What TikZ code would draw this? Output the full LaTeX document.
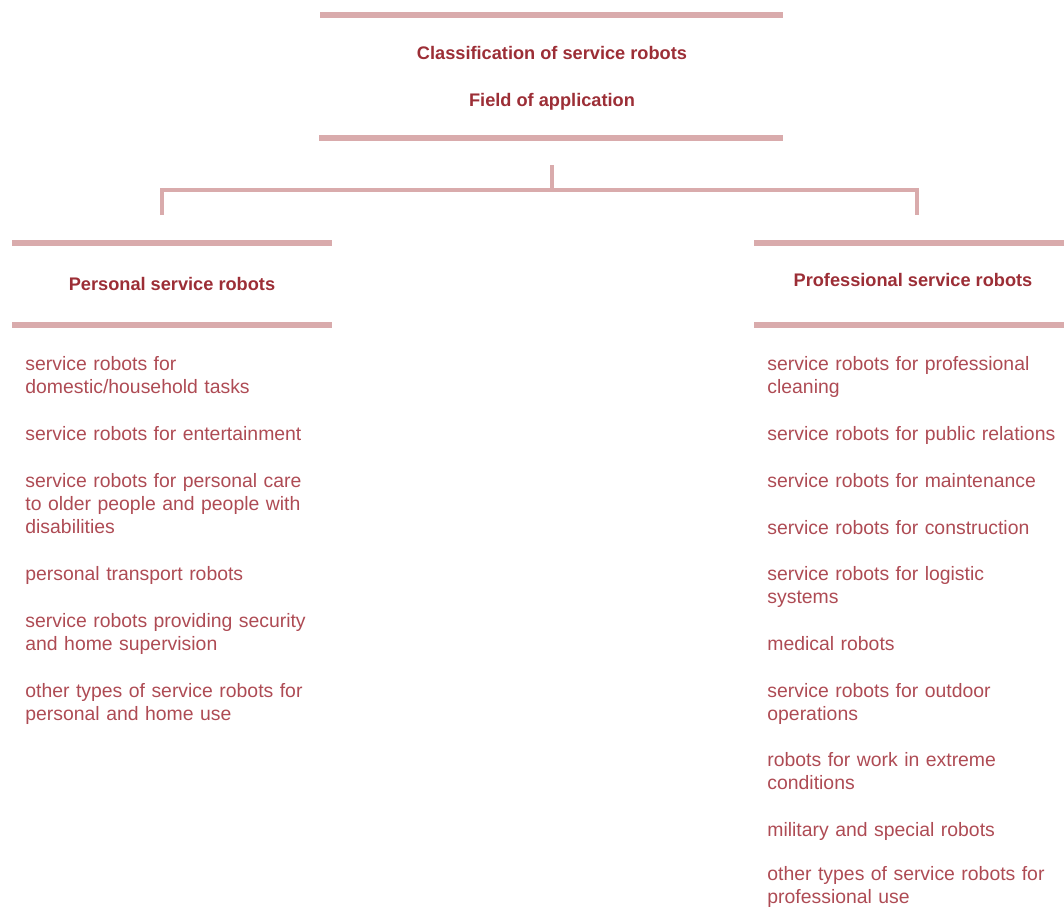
\documentclass[tikz,border=0pt]{standalone}
\usepackage{fontspec}
\setmainfont{Liberation Sans}
\definecolor{barpink}{HTML}{D9ABAC}
\definecolor{headred}{HTML}{9C2E36}
\definecolor{itemred}{HTML}{AE4B54}
\begin{document}
\begin{tikzpicture}[x=0.5pt,y=-0.5pt,
bar/.style={barpink,line width=3pt},link/.style={barpink,line width=1.6pt},
title/.style={font=\fontsize{9.1}{11}\selectfont\bfseries,text=headred,inner sep=0pt,anchor=base},
item/.style={font=\fontsize{9.7}{11.5}\selectfont,text=itemred,inner sep=0pt,anchor=base west,text width=160pt,align=left}]
\useasboundingbox (0,0) rectangle (1064,906);
% top box
\draw[bar] (320,15) -- (783,15);
\node[title] (head) at (552,59) {Classification of service robots};
\node[title] (field) at (552,106) {Field of application};
\draw[bar] (319,138) -- (783,138);
% tree
\coordinate (stem) at (552,165);
\coordinate (fork) at (552,190);
\coordinate (dropL) at (162,215);
\coordinate (dropR) at (917,215);
\draw[link] (stem) -- (fork);
\draw[link] (dropL) |- (fork) -| (dropR);
% personal
\draw[bar] (12,243) -- (332,243);
\node[title] (pers) at (172,290) {Personal service robots};
\draw[bar] (12,325) -- (332,325);
\node[item] (p1) at (25,370) {service robots for\\domestic/household tasks};
\node[item] (p2) at (25,440) {service robots for entertainment};
\node[item] (p3) at (25,487) {service robots for personal care\\to older people and people with\\disabilities};
\node[item] (p4) at (25,580) {personal transport robots};
\node[item] (p5) at (25,627) {service robots providing security\\and home supervision};
\node[item] (p6) at (25,697) {other types of service robots for\\personal and home use};
% professional
\draw[bar] (754,243) -- (1064,243);
\node[title] (prof) at (913,286) {Professional service robots};
\draw[bar] (754,325) -- (1064,325);
\node[item] (r1) at (767,370) {service robots for professional\\cleaning};
\node[item] (r2) at (767,440) {service robots for public relations};
\node[item] (r3) at (767,487) {service robots for maintenance};
\node[item] (r4) at (767,534) {service robots for construction};
\node[item] (r5) at (767,580) {service robots for logistic\\systems};
\node[item] (r6) at (767,650) {medical robots};
\node[item] (r7) at (767,697) {service robots for outdoor\\operations};
\node[item] (r8) at (767,766) {robots for work in extreme\\conditions};
\node[item] (r9) at (767,836) {military and special robots};
\node[item] (r10) at (767,880) {other types of service robots for\\professional use};
\end{tikzpicture}
\end{document}
